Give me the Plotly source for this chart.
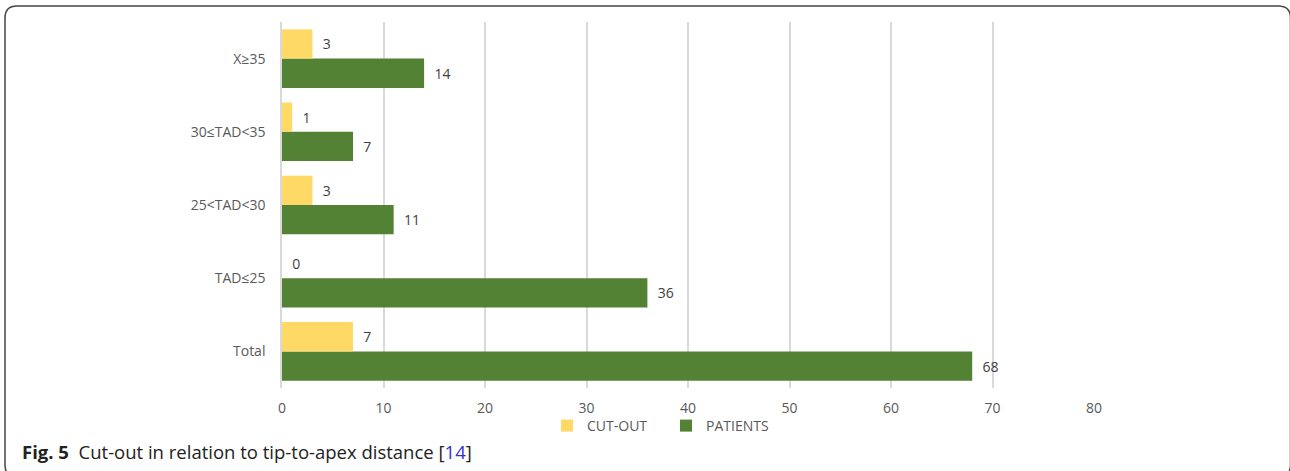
import plotly.graph_objects as go

categories = ["Total", "TAD≤25", "25<TAD<30", "30≤TAD<35", "X≥35"]
cut_out = [7, 0, 3, 1, 3]
patients = [68, 36, 11, 7, 14]
x_ticks = [0, 10, 20, 30, 40, 50, 60, 70, 80]

W, H = 1290, 471
L, R, T, B = 282, 1094, 22, 388

def px(x):
    return (x - L) / (R - L)

def py(y):
    return (B - y) / (B - T)

fig = go.Figure()
fig.add_trace(go.Bar(
    y=categories, x=patients, orientation="h", name="PATIENTS",
    marker=dict(color="#548235", line=dict(width=0)),
    text=patients, texttemplate="  %{x}", textposition="outside", cliponaxis=False,
    textfont=dict(family="Open Sans", size=14, color="#404040"),
    legendrank=2,
))
fig.add_trace(go.Bar(
    y=categories, x=cut_out, orientation="h", name="CUT-OUT",
    marker=dict(color="#FFD966", line=dict(width=0)),
    text=cut_out, texttemplate="  %{x}", textposition="outside", cliponaxis=False,
    textfont=dict(family="Open Sans", size=14, color="#404040"),
    legendrank=1,
))

r = 12
x0, x1 = px(5), px(1290.5)
y0, y1 = py(6), py(477)
rx = r / (R - L)
ry = r / (B - T)
path = (f"M {x0+rx},{y0} L {x1-rx},{y0} Q {x1},{y0} {x1},{y0-ry} "
        f"L {x1},{y1+ry} Q {x1},{y1} {x1-rx},{y1} "
        f"L {x0+rx},{y1} Q {x0},{y1} {x0},{y1+ry} "
        f"L {x0},{y0-ry} Q {x0},{y0} {x0+rx},{y0} Z")

fig.update_layout(
    width=W, height=H,
    margin=dict(l=L, r=W - R, t=T, b=H - B),
    paper_bgcolor="white", plot_bgcolor="white",
    barmode="group", bargap=0.2, bargroupgap=0,
    font=dict(family="Open Sans", size=14, color="#595959"),
    xaxis=dict(range=[0, 80], tickvals=x_ticks, showgrid=True, gridcolor="#d9d9d9",
               gridwidth=1.5, zeroline=False, showline=False, ticks="",
               ticklabelstandoff=10, tickfont=dict(size=14, color="#595959")),
    yaxis=dict(categoryorder="array", categoryarray=categories, showgrid=False,
               showline=True, linecolor="#d9d9d9", linewidth=1.5, ticks="",
               ticklabelstandoff=12, tickfont=dict(size=14, color="#595959")),
    legend=dict(orientation="h", x=px(547), xanchor="left", y=py(410), yanchor="top",
                font=dict(size=14, color="#595959"), itemwidth=30, traceorder="normal",
                entrywidth=74, entrywidthmode="pixels",
                bgcolor="rgba(0,0,0,0)"),
    shapes=[dict(type="path", path=path, xref="paper", yref="paper",
                 line=dict(color="#444444", width=1.5), layer="below")],
    annotations=[dict(
        text="<b>Fig. 5</b>  Cut-out in relation to tip-to-apex distance [<span style='color:#3333cc'>14</span>]",
        xref="paper", yref="paper", x=px(20), y=py(451), xanchor="left", yanchor="middle",
        showarrow=False, font=dict(family="Open Sans", size=18.5, color="#222222"),
    )],
)

fig.write_html("out.html", config={"displayModeBar": False},
               post_script="document.body.style.margin='0';document.body.style.padding='0';")
